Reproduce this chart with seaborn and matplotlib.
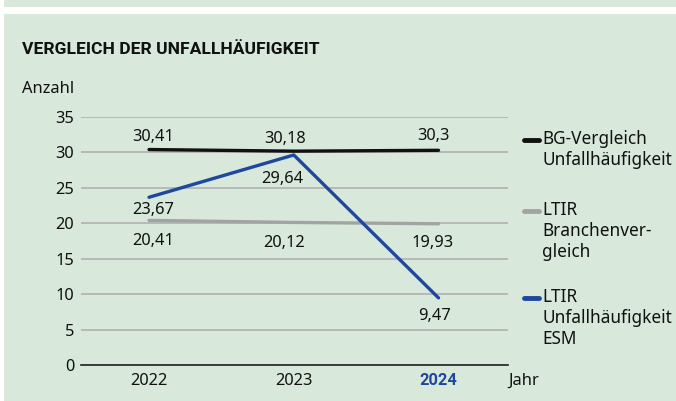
import seaborn as sns
import pandas as pd
import matplotlib.pyplot as plt
from matplotlib.patches import Rectangle
from matplotlib.lines import Line2D

years = ["2022", "2023", "2024"]
bg_vergleich = [30.41, 30.18, 30.3]
ltir_branche = [20.41, 20.12, 19.93]
ltir_esm = [23.67, 29.64, 9.47]

series_names = ["BG-Vergleich\nUnfallhäufigkeit",
                "LTIR\nBranchenver-\ngleich",
                "LTIR\nUnfallhäufigkeit\nESM"]

green = "#d8e9dc"
c_black = "#111111"
c_gray = "#a3a3a3"
c_blue = "#1f479c"
fs = 11.8

sns.set_theme(style="white")
plt.rcParams["font.family"] = ["Noto Sans", "DejaVu Sans"]

df = pd.DataFrame({
    "x": list(range(len(years))) * 3,
    "wert": bg_vergleich + ltir_branche + ltir_esm,
    "serie": [series_names[0]] * 3 + [series_names[1]] * 3 + [series_names[2]] * 3,
})

fig = plt.figure(figsize=(6.76, 4.01), dpi=100)
fig.patch.set_facecolor("white")
# green panels: top band and main panel
fig.add_artist(Rectangle((4 / 676, 1 - 7 / 401), 1, 7 / 401, transform=fig.transFigure,
                         facecolor=green, edgecolor="none", zorder=-10))
fig.add_artist(Rectangle((4 / 676, 0), 1, 1 - 14 / 401, transform=fig.transFigure,
                         facecolor=green, edgecolor="none", zorder=-10))

ax = fig.add_axes([81 / 676, 1 - 365 / 401, (508 - 81) / 676, (365 - 117) / 401])
ax.set_facecolor("none")

palette = {series_names[0]: c_black, series_names[1]: c_gray, series_names[2]: c_blue}
order = [series_names[1], series_names[0], series_names[2]]
for s in order:
    sub = df[df["serie"] == s]
    sns.lineplot(data=sub, x="x", y="wert", color=palette[s], lw=2.4, ax=ax,
                 legend=False, zorder=3)

ax.set_xlim(-0.47, 2.48)
ax.set_ylim(0, 35)
ax.set_yticks(range(0, 36, 5))
ax.set_xticks(range(len(years)))
ax.set_xticklabels(years)
ax.tick_params(axis="both", length=0, labelsize=fs, colors="#111111")
ax.tick_params(axis="y", pad=5)
ax.tick_params(axis="x", pad=6)
for lab in ax.get_xticklabels():
    if lab.get_text() == "2024":
        lab.set_color(c_blue)
        lab.set_fontfamily(["Roboto", "DejaVu Sans"])
        lab.set_fontweight("bold")
ax.set_xlabel("")
ax.set_ylabel("")
ax.grid(axis="y", color="#b0b0b0", lw=1.2)
ax.grid(axis="x", visible=False)
for side in ["left", "right", "top"]:
    ax.spines[side].set_visible(False)
ax.spines["bottom"].set_color("#222222")
ax.spines["bottom"].set_linewidth(1.2)
ax.spines["bottom"].set_zorder(4)

def fmt(v):
    return ("%g" % v).replace(".", ",")

# value labels (offsets in points)
offs_bg = [(3, 9), (-6, 9), (-4, 10)]
offs_gray = [(3, -15), (-7, -15), (-4, -14)]
offs_blue = [(3, -9), (-8, -17), (-3, -13)]
for vals, offs in [(bg_vergleich, offs_bg), (ltir_branche, offs_gray), (ltir_esm, offs_blue)]:
    for i, v in enumerate(vals):
        ax.annotate(fmt(v), (i, v), xytext=offs[i], textcoords="offset points",
                    ha="center", va="center", fontsize=fs, color="#111111")

fig.text(22 / 676, 1 - 49 / 401, "VERGLEICH DER UNFALLHÄUFIGKEIT", fontsize=12.6,
         fontweight="bold", color="#111111", va="center", ha="left",
         family=["Roboto", "DejaVu Sans"])
fig.text(22 / 676, 1 - 89 / 401, "Anzahl", fontsize=fs, color="#111111",
         va="center", ha="left")
fig.text(508 / 676, 1 - 381 / 401, "Jahr", fontsize=fs, color="#111111",
         va="center", ha="left")

# legend
leg_y = [140, 211, 298]
leg_c = [c_black, c_gray, c_blue]
for y, c, name in zip(leg_y, leg_c, series_names):
    yf = 1 - y / 401
    fig.add_artist(Line2D([524 / 676, 539 / 676], [yf, yf], transform=fig.transFigure,
                          color=c, lw=3.5, solid_capstyle="round"))
    fig.text(542 / 676, yf + 10 / 401, name, fontsize=12.4, color="#111111",
             va="top", ha="left", linespacing=1.22)

fig.savefig("out.png", dpi=100)
